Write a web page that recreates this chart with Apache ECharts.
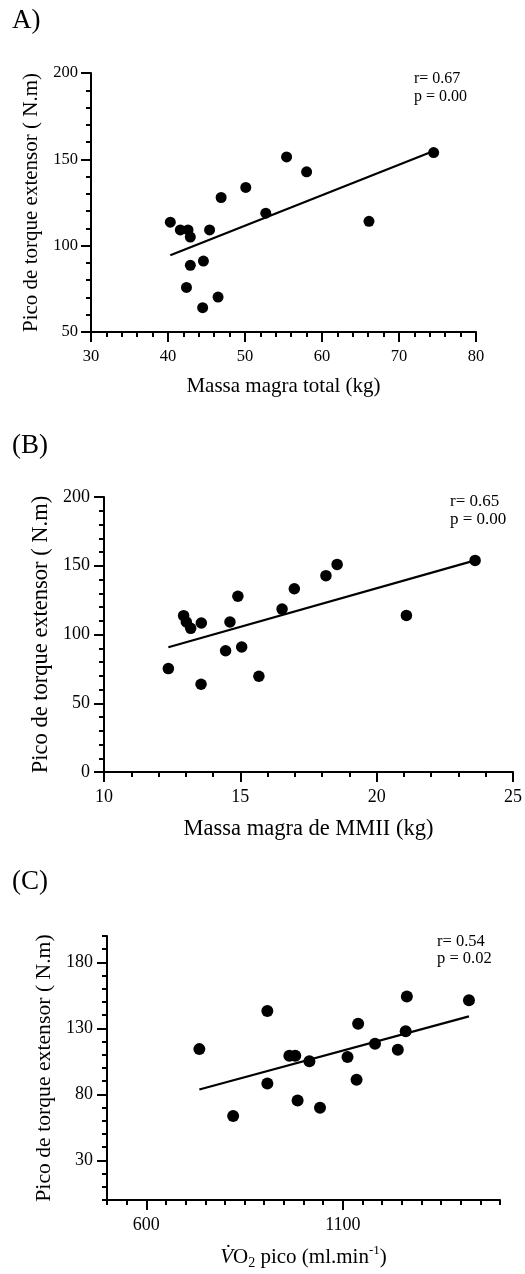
<!DOCTYPE html>
<html>
<head>
<meta charset="utf-8">
<script src="https://cdn.jsdelivr.net/npm/echarts@6/dist/echarts.min.js"></script>
<style>
html, body { margin: 0; padding: 0; background: #fff; }
#chart { width: 525px; height: 1274px; }
</style>
</head>
<body>
<div id="chart"></div>
<script>
var FONT = 'Liberation Serif';

// (A) massa magra total x pico de torque
var massaTotal = [40.3, 41.6, 42.6, 42.9, 45.4, 46.9, 50.1, 52.7, 55.4, 58.0, 66.1, 74.5, 42.9, 44.6, 42.4, 44.5, 46.5];
var torqueA = [113.6, 109.1, 109.1, 105.0, 109.1, 127.9, 133.7, 118.8, 151.4, 142.8, 114.1, 153.9, 88.6, 91.1, 75.8, 64.1, 70.2];
var trendA = [[40.3, 94.4], [74.5, 154.8]];

// (B) massa magra de MMII
var massaMMII = [12.36, 12.92, 13.02, 13.18, 13.57, 13.56, 14.46, 14.62, 14.91, 15.05, 15.68, 16.53, 16.98, 18.14, 18.55, 21.09, 23.61];
var torqueB = [75.2, 113.7, 109.1, 104.5, 108.4, 63.8, 88.2, 109.1, 127.8, 90.9, 69.6, 118.5, 133.3, 142.8, 151.0, 113.9, 153.9];
var trendB = [[12.36, 90.7], [23.61, 153.9]];

// (C) VO2 pico
var vo2Pico = [735, 821, 908, 908, 964, 979, 985, 1015, 1042, 1112, 1135, 1139, 1182, 1240, 1260, 1263, 1421];
var torqueC = [114.3, 63.7, 143.2, 88.3, 109.3, 109.3, 75.4, 105.2, 69.8, 108.3, 91.1, 133.6, 118.4, 113.8, 127.8, 154.1, 151.3];
var trendC = [[735, 83.7], [1421, 139.1]];
var labelsCy = [30, 80, 130, 180];
var labelsCx = [600, 1100];

var stats = ['r= 0.67\np = 0.00', 'r= 0.65\np = 0.00', 'r= 0.54\np = 0.02'];
var yTitle = 'Pico de torque extensor ( N.m)';

function pairs(xs, ys) {
    return xs.map(function (x, i) { return [x, ys[i]]; });
}

var black = { color: '#000', width: 2 };

function axis(o) {
    return {
        type: 'value',
        gridIndex: o.grid,
        position: o.position,
        offset: 0,
        min: o.min,
        max: o.max,
        interval: o.interval,
        axisLine: { show: o.line !== false, onZero: false, lineStyle: black },
        axisTick: { show: true, length: o.tickLen || 10, lineStyle: black, customValues: o.tickValues },
        minorTick: { show: !!o.minor, splitNumber: o.minor || 5, length: 5, lineStyle: black },
        splitLine: { show: false },
        axisLabel: {
            show: o.labels !== false,
            customValues: o.tickValues,
            formatter: function (v) { return String(v); },
            color: '#000', fontFamily: FONT, fontSize: o.fs, margin: o.margin
        },
        name: o.name,
        nameLocation: 'middle',
        nameGap: o.nameGap,
        nameTextStyle: o.nameStyle || { color: '#000', fontFamily: FONT, fontSize: o.nfs }
    };
}

function scatter(xi, yi, data, size) {
    return {
        type: 'scatter', xAxisIndex: xi, yAxisIndex: yi, data: data,
        symbolSize: size, itemStyle: { color: '#000', opacity: 1 }, z: 5
    };
}

function trend(xi, yi, data) {
    return {
        type: 'line', xAxisIndex: xi, yAxisIndex: yi, data: data,
        symbol: 'none', lineStyle: { color: '#000', width: 2.2 }, z: 4
    };
}

var option = {
    backgroundColor: '#fff',
    animation: false,
    grid: [
        { left: 91, top: 73, width: 385, height: 259 },
        { left: 104, top: 497, width: 410, height: 275 },
        { left: 107, top: 936, width: 393, height: 264 }
    ],
    xAxis: [
        axis({ grid: 0, position: 'bottom', min: 30, max: 80, interval: 10, minor: 5, fs: 16.5, margin: 16,
            name: 'Massa magra total (kg)', nameGap: 44, nfs: 21 }),
        axis({ grid: 1, position: 'bottom', min: 10, max: 25, interval: 5, minor: 5, fs: 18, margin: 16,
            name: 'Massa magra de MMII (kg)', nameGap: 46, nfs: 22.5 }),
        axis({ grid: 2, position: 'bottom', min: 500, max: 1500, interval: 50, tickLen: 5, labels: false }),
        axis({ grid: 2, position: 'bottom', min: 500, max: 1500, interval: 500, line: false, tickValues: labelsCx,
            fs: 18, margin: 16, name: '{v|V\u0307}O{s|2} pico (ml.min{u|-1})', nameGap: 44,
            nameStyle: {
                color: '#000', fontFamily: FONT, fontSize: 21, lineHeight: 26,
                rich: {
                    v: { fontFamily: FONT, fontSize: 21, fontStyle: 'italic', color: '#000', lineHeight: 26 },
                    s: { fontFamily: FONT, fontSize: 14, color: '#000', lineHeight: 14, verticalAlign: 'bottom' },
                    u: { fontFamily: FONT, fontSize: 13, color: '#000', lineHeight: 13, verticalAlign: 'top' }
                }
            } })
    ],
    yAxis: [
        axis({ grid: 0, position: 'left', min: 50, max: 200, interval: 50, minor: 5, fs: 16.5, margin: 13,
            name: yTitle, nameGap: 49, nfs: 21 }),
        axis({ grid: 1, position: 'left', min: 0, max: 200, interval: 50, minor: 5, fs: 18, margin: 14,
            name: yTitle, nameGap: 51, nfs: 22.5 }),
        axis({ grid: 2, position: 'left', min: 0, max: 200, interval: 10, tickLen: 5, labels: false }),
        axis({ grid: 2, position: 'left', min: 0, max: 200, interval: 50, line: false, tickValues: labelsCy,
            fs: 18, margin: 14, name: yTitle, nameGap: 52, nfs: 21.7 })
    ],
    series: [
        trend(0, 0, trendA),
        scatter(0, 0, pairs(massaTotal, torqueA), 11),
        trend(1, 1, trendB),
        scatter(1, 1, pairs(massaMMII, torqueB), 11.5),
        trend(2, 2, trendC),
        scatter(2, 2, pairs(vo2Pico, torqueC), 12)
    ],
    graphic: [
        { type: 'text', left: 12, top: 7, style: { text: 'A)', fontFamily: FONT, fontSize: 27, fill: '#000' } },
        { type: 'text', left: 12, top: 432, style: { text: '(B)', fontFamily: FONT, fontSize: 27, fill: '#000' } },
        { type: 'text', left: 12, top: 868, style: { text: '(C)', fontFamily: FONT, fontSize: 27, fill: '#000' } },
        { type: 'text', left: 414, top: 70, style: { text: stats[0], fontFamily: FONT, fontSize: 16, lineHeight: 18, fill: '#000' } },
        { type: 'text', left: 450, top: 493, style: { text: stats[1], fontFamily: FONT, fontSize: 17, lineHeight: 18, fill: '#000' } },
        { type: 'text', left: 437, top: 933, style: { text: stats[2], fontFamily: FONT, fontSize: 16.5, lineHeight: 17, fill: '#000' } }
    ]
};

var chart = echarts.init(document.getElementById('chart'));
chart.setOption(option);
</script>
</body>
</html>
